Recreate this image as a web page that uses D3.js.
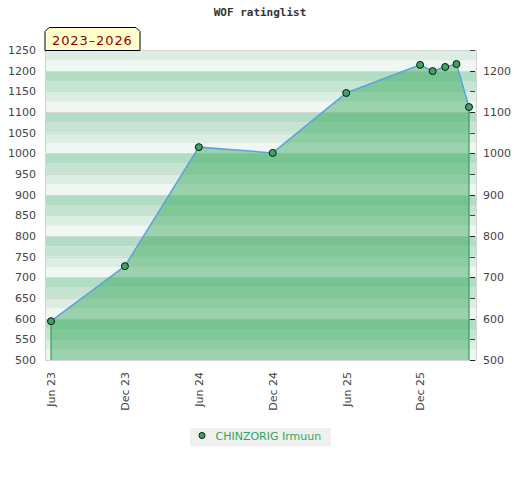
<html>
<head>
  <script src="https://d3js.org/d3.v7.min.js"></script>
  <style>
    body { margin: 0; background: #fff; }
    .axis text { font-family: "DejaVu Sans"; font-size: 11px; fill: #444; }
    .axis .domain { stroke: none; }
  </style>
</head>
<body>
  <svg id="chart" width="520" height="480"></svg>
  <script>
    // data
    const dates = ["2023-06-01", "2023-12-01", "2024-06-01", "2024-12-01", "2025-06-01",
      "2025-12-01", "2026-01-01", "2026-02-01", "2026-03-01", "2026-04-01"];
    const ratings = [594, 727, 1015, 1001, 1146, 1214, 1199, 1209, 1216, 1112];
    const xTicks = ["2023-06-01", "2023-12-01", "2024-06-01", "2024-12-01", "2025-06-01", "2025-12-01"];
    const leftTicks = d3.range(500, 1251, 50);
    const rightTicks = d3.range(500, 1201, 100);
    const playerName = "CHINZORIG Irmuun";
    const periodLabel = "2023\u20132026";
    const chartTitle = "WOF ratinglist";

    const parse = d3.timeParse("%Y-%m-%d");
    const data = dates.map((d, i) => ({ date: parse(d), rating: ratings[i] }));

    const svg = d3.select("#chart");
    const plot = { left: 45, top: 50, width: 431, height: 310 };

    const xScale = d3.scaleTime()
      .domain([parse("2023-06-01"), parse("2026-04-01")])
      .range([51, 469]);
    const yScale = d3.scaleLinear().domain([500, 1250]).range([plot.top + plot.height, plot.top]);

    // title
    svg.append("text")
      .attr("x", 260).attr("y", 16)
      .attr("text-anchor", "middle")
      .style("font-family", "DejaVu Sans Mono").style("font-weight", "bold")
      .style("font-size", "11px").style("fill", "#333")
      .text(chartTitle);

    // striped background, 4 shades per 100 points
    const shades = ["#f0f7f3", "#dcede3", "#c5e5d2", "#b3dcc4"];
    svg.append("g").selectAll("rect").data(d3.range(500, 1250, 25))
      .join("rect")
      .attr("x", plot.left)
      .attr("width", plot.width)
      .attr("y", d => yScale(d + 25))
      .attr("height", d => yScale(d) - yScale(d + 25))
      .attr("fill", d => shades[((d - 500) / 25) % 4]);

    // gridlines
    svg.append("g").selectAll("line").data(leftTicks)
      .join("line")
      .attr("x1", plot.left).attr("x2", plot.left + plot.width)
      .attr("y1", d => Math.round(yScale(d)) + 0.5).attr("y2", d => Math.round(yScale(d)) + 0.5)
      .attr("stroke", "#d6d9d7");

    // area
    const area = d3.area()
      .x(d => xScale(d.date))
      .y0(yScale(500))
      .y1(d => yScale(d.rating));
    svg.append("path").datum(data)
      .attr("d", area)
      .attr("fill", "rgba(40,163,79,0.43)");

    // vertical edges of the area
    const first = data[0], last = data[data.length - 1];
    [first, last].forEach(d => {
      svg.append("line")
        .attr("x1", xScale(d.date)).attr("x2", xScale(d.date))
        .attr("y1", yScale(d.rating)).attr("y2", yScale(500))
        .attr("stroke", "#3a9d5d").attr("stroke-width", 1.2);
    });

    // rating line
    const line = d3.line().x(d => xScale(d.date)).y(d => yScale(d.rating));
    svg.append("path").datum(data)
      .attr("d", line)
      .attr("fill", "none")
      .attr("stroke", "#5ca2dc")
      .attr("stroke-width", 1.5);

    // plot border
    svg.append("rect")
      .attr("x", plot.left + 0.5).attr("y", plot.top + 0.5)
      .attr("width", plot.width).attr("height", plot.height)
      .attr("fill", "none").attr("stroke", "#d4d4d4");

    // markers
    svg.append("g").selectAll("circle").data(data)
      .join("circle")
      .attr("cx", d => xScale(d.date))
      .attr("cy", d => yScale(d.rating))
      .attr("r", 3.5)
      .attr("fill", "#3aa660")
      .attr("stroke", "#111")
      .attr("stroke-width", 1);

    // left axis
    const yAxisLeft = d3.axisLeft(yScale).tickValues(leftTicks)
      .tickFormat(d3.format("d")).tickSize(0).tickPadding(9);
    svg.append("g").attr("class", "axis")
      .attr("transform", `translate(${plot.left},0)`)
      .call(yAxisLeft);

    // right axis, ticks drawn inward
    const yAxisRight = d3.axisRight(yScale).tickValues(rightTicks)
      .tickFormat(d3.format("d")).tickSize(0).tickPadding(7);
    const rightG = svg.append("g").attr("class", "axis")
      .attr("transform", `translate(${plot.left + plot.width},0)`)
      .call(yAxisRight);
    rightG.append("g").selectAll("line").data(d3.range(500, 1251, 50))
      .join("line")
      .attr("x1", -6).attr("x2", -1)
      .attr("y1", d => Math.round(yScale(d)) + 0.5).attr("y2", d => Math.round(yScale(d)) + 0.5)
      .attr("stroke", d => d % 100 === 0 ? "#222" : "#444")
      .attr("stroke-width", 1);

    // bottom axis, rotated labels
    const xAxis = d3.axisBottom(xScale)
      .tickValues(xTicks.map(parse))
      .tickFormat(d3.timeFormat("%b %y"))
      .tickSize(0).tickPadding(0);
    svg.append("g").attr("class", "axis")
      .attr("transform", `translate(0,${plot.top + plot.height})`)
      .call(xAxis)
      .selectAll("text")
      .attr("transform", "rotate(-90)")
      .attr("text-anchor", "end")
      .attr("x", -12).attr("y", 0).attr("dy", "0.35em");

    // period label box with chamfered top corners
    const bx = 45, by = 27.5, bw = 95, bh = 23, c = 4;
    svg.append("path")
      .attr("d", `M${bx},${by + bh} L${bx},${by + c} L${bx + c},${by} L${bx + bw - c},${by} L${bx + bw},${by + c} L${bx + bw},${by + bh} Z`)
      .attr("fill", "#ffffcc").attr("stroke", "#000").attr("stroke-width", 1);
    svg.append("text")
      .attr("x", 52).attr("y", 44.5)
      .style("font-family", "DejaVu Sans").style("font-size", "13px")
      .style("letter-spacing", "0.9px").style("fill", "#8b0000")
      .text(periodLabel);

    // legend
    const legend = svg.append("g");
    legend.append("rect")
      .attr("x", 190).attr("y", 428).attr("width", 141).attr("height", 18.5)
      .attr("fill", "#f0f0f0");
    legend.append("circle")
      .attr("cx", 202).attr("cy", 435.5).attr("r", 3)
      .attr("fill", "#3aa660").attr("stroke", "#111");
    legend.append("text")
      .attr("x", 215.5).attr("y", 440)
      .style("font-family", "DejaVu Sans").style("font-size", "11px").style("fill", "#2ea655")
      .text(playerName);
  </script>
</body>
</html>
